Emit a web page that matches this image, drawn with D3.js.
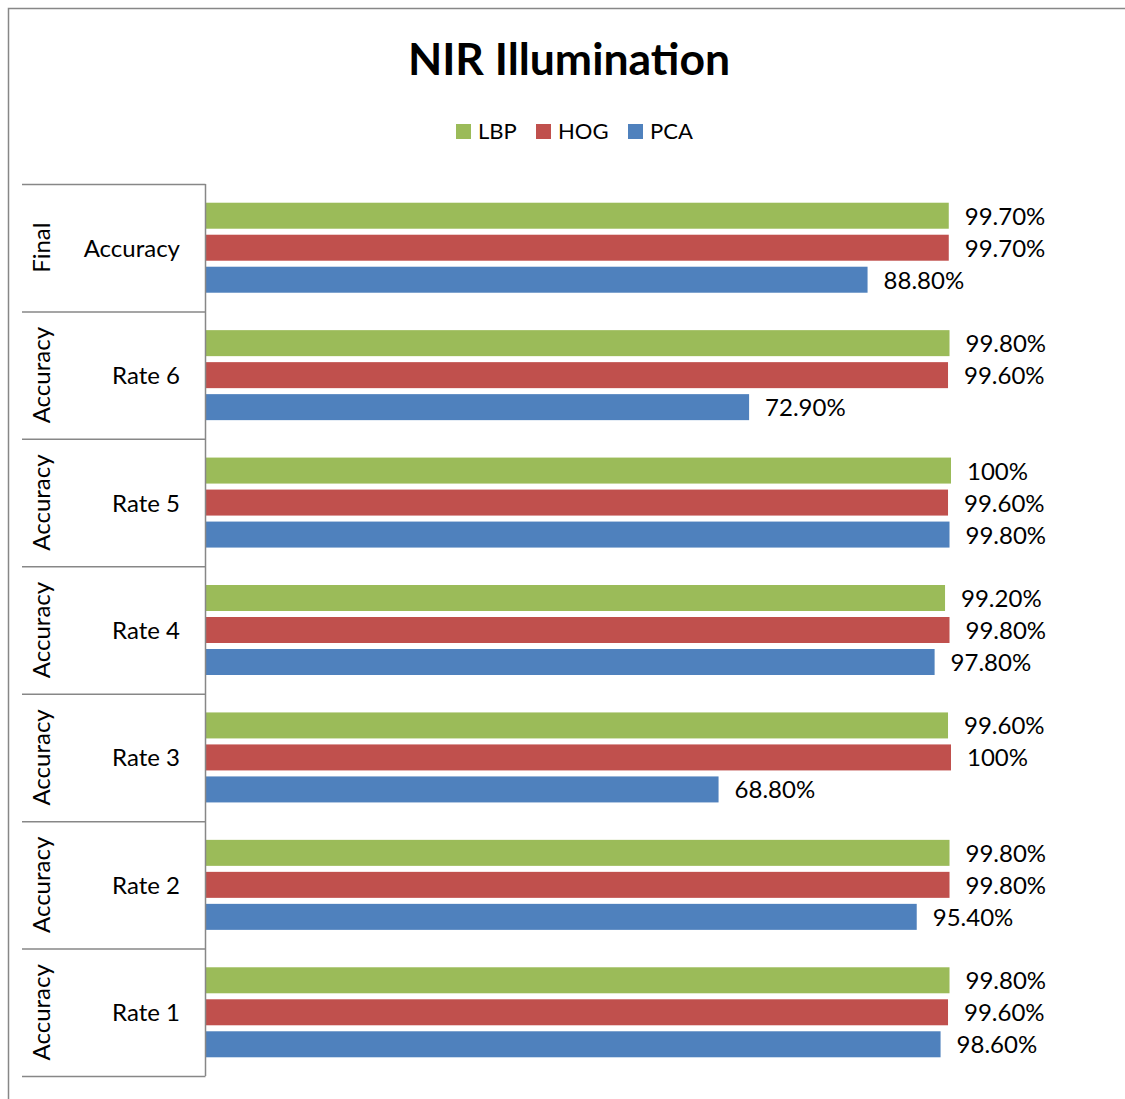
<!DOCTYPE html>
<html>
<head>
<meta charset="utf-8">
<script src="https://cdn.jsdelivr.net/npm/d3@7"></script>
<style>
  body { margin: 0; background: #fff; }
  text { font-family: Lato, "Open Sans", sans-serif; fill: #000; }
</style>
</head>
<body>
<script>
// categories, top to bottom
var outerLabels = ["Final", "Accuracy", "Accuracy", "Accuracy", "Accuracy", "Accuracy", "Accuracy"];
var innerLabels = ["Accuracy", "Rate 6", "Rate 5", "Rate 4", "Rate 3", "Rate 2", "Rate 1"];
var series = ["LBP", "HOG", "PCA"];
var colors = ["#9BBB59", "#C0504D", "#4F81BD"];
var lbp = [99.7, 99.8, 100, 99.2, 99.6, 99.8, 99.8];
var hog = [99.7, 99.6, 99.6, 99.8, 100, 99.8, 99.6];
var pca = [88.8, 72.9, 99.8, 97.8, 68.8, 95.4, 98.6];
var labelLbp = ["99.70%", "99.80%", "100%", "99.20%", "99.60%", "99.80%", "99.80%"];
var labelHog = ["99.70%", "99.60%", "99.60%", "99.80%", "100%", "99.80%", "99.60%"];
var labelPca = ["88.80%", "72.90%", "99.80%", "97.80%", "68.80%", "95.40%", "98.60%"];

var width = 1125, height = 1099;
var svg = d3.select("body").append("svg")
    .attr("width", width).attr("height", height);

// chart frame
svg.append("rect")
    .attr("x", 8.5).attr("y", 8.5)
    .attr("width", 1200).attr("height", 1200)
    .attr("fill", "none").attr("stroke", "#878787").attr("stroke-width", 1.5);

svg.append("text")
    .attr("x", 569).attr("y", 75)
    .attr("text-anchor", "middle")
    .style("font-size", "44.5px").style("font-weight", "bold")
    .text("NIR Illumination");

// legend
var legendX = [456, 536, 628];
series.forEach(function (s, i) {
  svg.append("rect").attr("x", legendX[i]).attr("y", 124)
      .attr("width", 15).attr("height", 15).attr("fill", colors[i]);
  svg.append("text").attr("x", legendX[i] + 22).attr("y", 139)
      .style("font-size", "22px").text(s);
});

var plotTop = 184, plotBottom = 1076;
var y = d3.scaleBand().domain(d3.range(innerLabels.length)).range([plotTop, plotBottom]);
var x = d3.scaleLinear().domain([0, 100]).range([206, 951]);
var barH = 26, barGap = 6;

var rows = innerLabels.map(function (d, i) {
  return {
    i: i,
    vals: [lbp[i], hog[i], pca[i]],
    labs: [labelLbp[i], labelHog[i], labelPca[i]]
  };
});

var g = svg.append("g");
rows.forEach(function (r) {
  var y0 = y(r.i) + (y.bandwidth() - (3 * barH + 2 * barGap)) / 2;
  r.vals.forEach(function (v, k) {
    var yy = y0 + k * (barH + barGap);
    g.append("rect")
        .attr("x", x(0)).attr("y", yy)
        .attr("width", x(v) - x(0)).attr("height", barH)
        .attr("fill", colors[k]);
    g.append("text")
        .attr("x", x(v) + 16).attr("y", yy + barH / 2 + 9)
        .style("font-size", "24px")
        .text(r.labs[k]);
  });
});

// category axis
var axis = svg.append("g");
axis.append("line")
    .attr("x1", 205.5).attr("x2", 205.5).attr("y1", plotTop).attr("y2", plotBottom)
    .attr("stroke", "#878787").attr("stroke-width", 1.5);
d3.range(innerLabels.length + 1).forEach(function (i) {
  var yy = i < innerLabels.length ? y(i) : plotBottom;
  axis.append("line")
      .attr("x1", 22).attr("x2", 205.5).attr("y1", yy + 0.5).attr("y2", yy + 0.5)
      .attr("stroke", "#878787").attr("stroke-width", 1.5);
});
innerLabels.forEach(function (lab, i) {
  var cy = y(i) + y.bandwidth() / 2;
  axis.append("text")
      .attr("x", 180).attr("y", cy + 9)
      .attr("text-anchor", "end")
      .style("font-size", "24px")
      .text(lab);
  axis.append("text")
      .attr("transform", "translate(50," + cy + ") rotate(-90)")
      .attr("text-anchor", "middle")
      .style("font-size", "24px")
      .text(outerLabels[i]);
});
</script>
</body>
</html>
